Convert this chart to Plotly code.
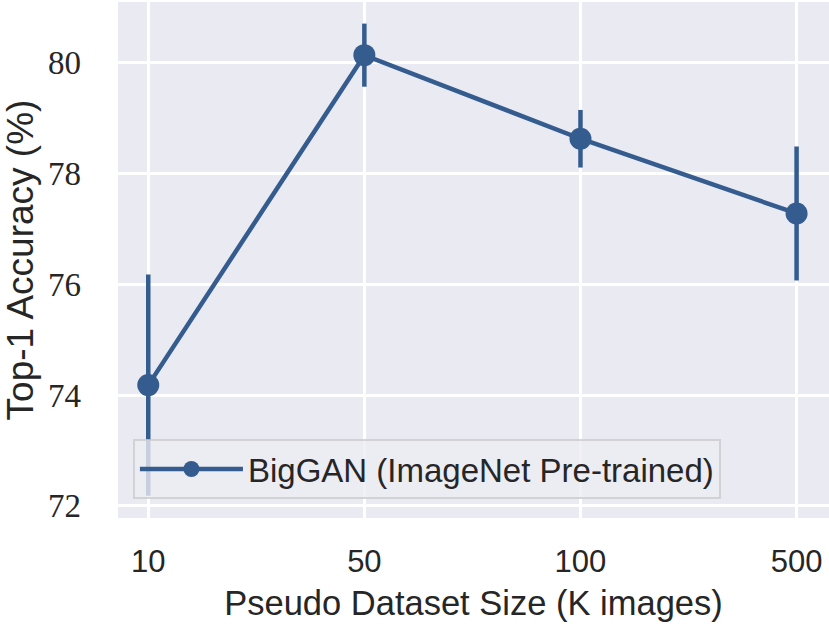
import plotly.graph_objects as go

categories = ["10", "50", "100", "500"]
accuracy = [74.18, 80.14, 78.63, 77.28]
error = [2.0, 0.57, 0.52, 1.21]
y_ticks = [72, 74, 76, 78, 80]
series_name = "BigGAN (ImageNet Pre-trained)"

color = "#355C8F"
sans = "Liberation Sans, Arial, sans-serif"
serif = "Liberation Serif, Times New Roman, serif"
txt = "#262626"

fig = go.Figure()
fig.add_trace(go.Scatter(
    x=categories, y=accuracy,
    mode="lines+markers",
    name=series_name,
    line=dict(color=color, width=4.5),
    marker=dict(color=color, size=22),
    error_y=dict(type="data", array=error, visible=True, color=color,
                 thickness=4.5, width=0),
))

fig.update_layout(
    width=829, height=633,
    margin=dict(l=118, r=0, t=2, b=115, autoexpand=False),
    paper_bgcolor="white",
    plot_bgcolor="#EAEAF2",
    showlegend=True,
    legend=dict(
        x=0.021, y=0.153, xanchor="left", yanchor="top",
        bgcolor="rgba(236,236,243,0.8)",
        bordercolor="rgba(204,204,204,0.8)", borderwidth=2,
        font=dict(family=sans, size=33, color=txt),
        itemwidth=103,
    ),
    font=dict(family=sans, color=txt),
)

fig.update_xaxes(
    type="category",
    range=[-0.14, 3.15],
    automargin=False,
    showgrid=True, gridcolor="white", gridwidth=2.7,
    zeroline=False, showline=False, ticks="",
    tickfont=dict(family=sans, size=31, color=txt),
    ticklabelstandoff=22,
    title=dict(text="Pseudo Dataset Size (K images)",
               font=dict(family=sans, size=34.5, color=txt), standoff=12),
)
fig.update_yaxes(
    range=[71.78, 81.1],
    automargin=False,
    tickvals=y_ticks, ticktext=[str(v) for v in y_ticks],
    showgrid=True, gridcolor="white", gridwidth=2.7,
    zeroline=False, showline=False, ticks="",
    tickfont=dict(family=serif, size=33, color=txt),
    ticklabelstandoff=36,
    title=dict(text="Top-1 Accuracy (%)",
               font=dict(family=sans, size=37, color=txt), standoff=4),
)

fig.write_html("out.html",
               config={"displayModeBar": False},
               post_script="document.body.style.margin='0px';document.body.style.overflow='hidden';")
